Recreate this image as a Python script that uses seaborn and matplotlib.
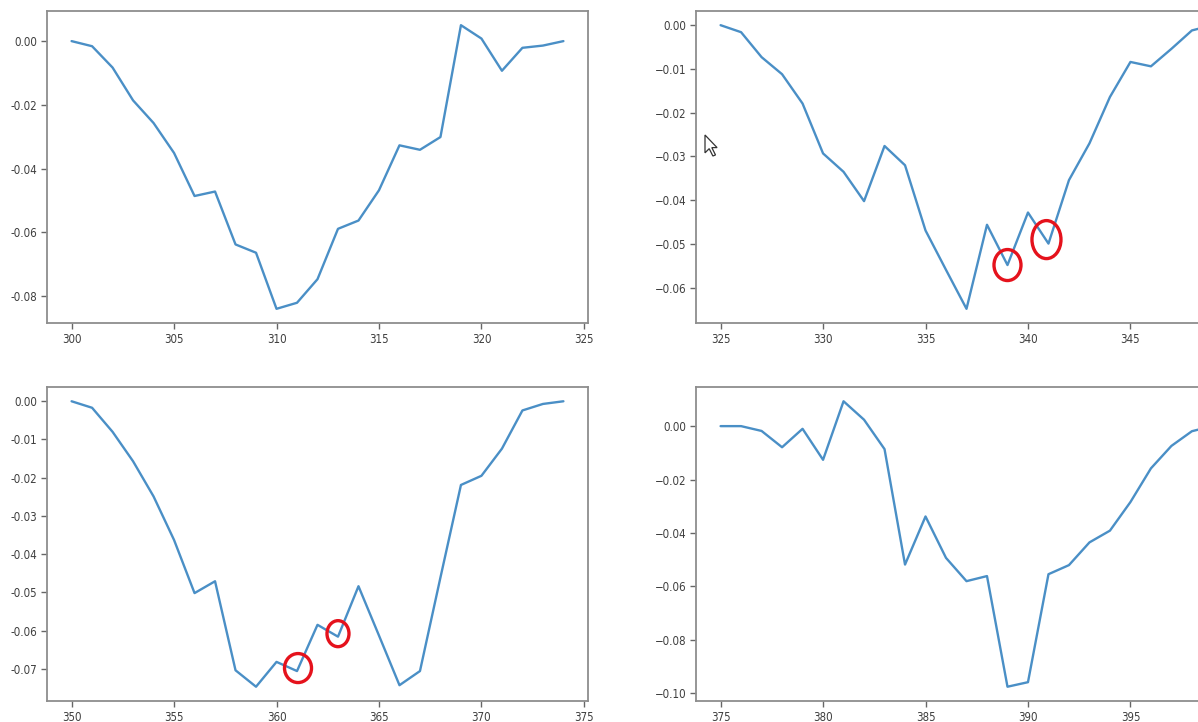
import numpy as np
import matplotlib
matplotlib.use("Agg")
import matplotlib.pyplot as plt
import matplotlib.transforms as mtransforms
from matplotlib.patches import Ellipse, Polygon
from matplotlib.ticker import FuncFormatter
import seaborn as sns

# Datos de los cuatro paneles
x_a = np.arange(300, 325)
y_a = [0.0, -0.0016, -0.0083, -0.0186, -0.0257, -0.0351, -0.0486, -0.0472, -0.0638, -0.0664,
       -0.0840, -0.0821, -0.0747, -0.0589, -0.0563, -0.0468, -0.0327, -0.0341, -0.0301, 0.0050,
       0.0008, -0.0093, -0.0021, -0.0014, 0.0]

x_b = np.arange(325, 350)
y_b = [0.0, -0.0016, -0.0073, -0.0112, -0.0179, -0.0293, -0.0335, -0.0402, -0.0276, -0.0320,
       -0.0469, -0.0559, -0.0648, -0.0456, -0.0548, -0.0428, -0.0499, -0.0354, -0.0270, -0.0164,
       -0.0084, -0.0094, -0.0054, -0.0012, 0.0]

x_c = np.arange(350, 375)
y_c = [0.0, -0.0017, -0.0080, -0.0157, -0.0249, -0.0363, -0.0502, -0.0471, -0.0704, -0.0747,
       -0.0682, -0.0706, -0.0585, -0.0616, -0.0484, -0.0613, -0.0743, -0.0706, -0.0461, -0.0219,
       -0.0195, -0.0124, -0.0024, -0.0007, 0.0]

x_d = np.arange(375, 400)
y_d = [0.0, 0.0, -0.0018, -0.0079, -0.0010, -0.0126, 0.0093, 0.0024, -0.0086, -0.0518,
       -0.0338, -0.0493, -0.0580, -0.0561, -0.0975, -0.0958, -0.0554, -0.0520, -0.0435, -0.0391,
       -0.0284, -0.0158, -0.0074, -0.0019, 0.0]

# ticks de cada panel
xt_a = [300, 305, 310, 315, 320, 325]
xt_b = [325, 330, 335, 340, 345]
xt_c = [350, 355, 360, 365, 370, 375]
xt_d = [375, 380, 385, 390, 395]
yt_a = [0.0, -0.02, -0.04, -0.06, -0.08]
yt_b = [0.0, -0.01, -0.02, -0.03, -0.04, -0.05, -0.06]
yt_c = [0.0, -0.01, -0.02, -0.03, -0.04, -0.05, -0.06, -0.07]
yt_d = [0.0, -0.02, -0.04, -0.06, -0.08, -0.10]

# puntos marcados con circulos rojos (panel, x)
marcas = [("b", 339), ("b", 341), ("c", 361), ("c", 363)]

sns.set_theme(style="white")
plt.rcParams["font.family"] = ["DejaVu Sans"]
plt.rcParams["font.stretch"] = "condensed"

W, H = 1198, 722
fig = plt.figure(figsize=(W / 100, H / 100), dpi=100)

def caja(l, t, r, b):
    return [l / W, (H - b) / H, (r - l) / W, (b - t) / H]

ax_a = fig.add_axes(caja(47, 11, 588, 323))
ax_b = fig.add_axes(caja(696, 11, 1237, 323))
ax_c = fig.add_axes(caja(47, 387, 588, 701))
ax_d = fig.add_axes(caja(696, 387, 1237, 701))

paneles = {"a": (ax_a, x_a, y_a, xt_a, yt_a), "b": (ax_b, x_b, y_b, xt_b, yt_b),
           "c": (ax_c, x_c, y_c, xt_c, yt_c), "d": (ax_d, x_d, y_d, xt_d, yt_d)}

for clave, (ax, xs, ys, xt, yt) in paneles.items():
    sns.lineplot(x=xs, y=ys, ax=ax, color="#4a8fc6", linewidth=1.7)
    ax.set_xticks(xt)
    ax.set_yticks(yt)
    for s in ax.spines.values():
        s.set_color("#8e8e8e")
        s.set_linewidth(1.3)
    ax.tick_params(axis="both", which="both", direction="out", length=4, width=1,
                   color="#666666", labelsize=8.3, labelcolor="#3f3f3f",
                   bottom=True, left=True, pad=3)
    if clave in ("a", "c"):
        ax.yaxis.set_major_formatter(FuncFormatter(lambda v, p: f"{v:.2f}".replace("−", "-")))
    else:
        ax.yaxis.set_major_formatter(FuncFormatter(lambda v, p: f"{v:.2f}".replace("-", "\u2212")))
    # limites como los de autoscale
    ax.set_xlim(xs[0] - 1.2, xs[-1] + 1.2)
    lo, hi = min(ys), max(ys)
    m = (hi - lo) * 0.05
    ax.set_ylim(lo - m, hi + m)

# circulos rojos: tamaño en pixeles y desplazamiento
formas = [(27, 31, 0, 0), (29, 38, -2, 4), (27, 29, 1, 3), (22, 26, 0, 3)]
for (clave, xv), (w, h, dx, dy) in zip(marcas, formas):
    ax, xs, ys = paneles[clave][:3]
    yv = ys[list(xs).index(xv)]
    tr = fig.dpi_scale_trans + mtransforms.ScaledTranslation(xv, yv, ax.transData)
    e = Ellipse((dx / 100, dy / 100), w / 100, h / 100, transform=tr,
                fill=False, edgecolor="#e5121c", linewidth=2.4, zorder=5, clip_on=False)
    ax.add_patch(e)

# puntero del raton
px = np.array([0, 0, 4, 7.5, 10, 6.5, 11.5]) * 1.05 + 705
py = np.array([0, 17, 13, 20, 19, 12, 12]) * 1.05 + 135
cursor = Polygon(np.column_stack([px / W, (H - py) / H]), closed=True,
                 transform=fig.transFigure, facecolor="white", edgecolor="#333333",
                 linewidth=0.9, zorder=10)
fig.patches.append(cursor)

fig.savefig("out.png", dpi=100)
